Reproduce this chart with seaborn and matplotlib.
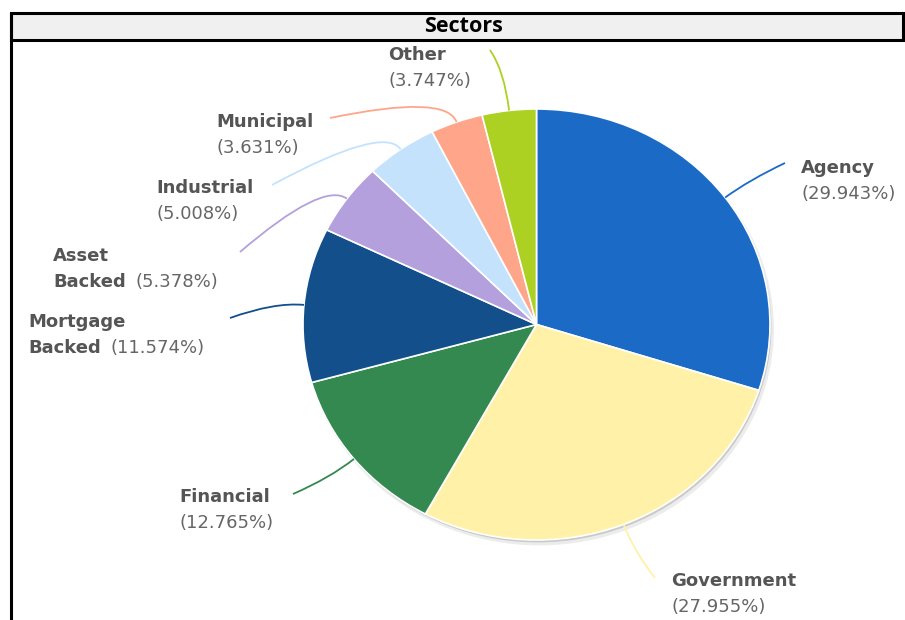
import numpy as np
import matplotlib
matplotlib.use("Agg")
import matplotlib.pyplot as plt
from matplotlib.patches import Rectangle, Ellipse, PathPatch
from matplotlib.path import Path
import seaborn as sns

# Portfolio sector weights (percent), clockwise from 12 o'clock
sectors = ["Agency", "Government", "Financial", "Mortgage Backed",
           "Asset Backed", "Industrial", "Municipal", "Other"]
shares = [29.943, 27.955, 12.765, 11.574, 5.378, 5.008, 3.631, 3.747]
slice_colors = ["#1b6bc6", "#fff2a8", "#33894f", "#124f8b",
                "#b4a0dc", "#c4e2fb", "#ffa589", "#add123"]
chart_title = "Sectors"

sns.set_theme(style="white")
plt.rcParams["font.family"] = ["DejaVu Sans"]
palette = sns.color_palette(slice_colors)

W, H = 905, 620
fig = plt.figure(figsize=(W / 100, H / 100), dpi=100)
fig.patch.set_facecolor("white")

# pie placement in pixels (slightly wider than tall)
CX, CY, RX, RY = 536.5, 324.5, 233.5, 215.5
M = 1.2
pie_ax = fig.add_axes([(CX - M * RX) / W, (H - CY - M * RY) / H,
                       2 * M * RX / W, 2 * M * RY / H])
pie_ax.add_patch(Ellipse((0.012, -0.02), 2.01, 2.01, facecolor="#9a9a9a",
                         alpha=0.18, lw=0, zorder=0))
pie_ax.add_patch(Ellipse((0.006, -0.011), 2.0, 2.0, facecolor="#8a8a8a",
                         alpha=0.35, lw=0, zorder=0))
pie_ax.pie(shares, colors=palette, startangle=90, counterclock=False,
           radius=1.0, wedgeprops=dict(edgecolor="white", linewidth=1.2))
pie_ax.set_aspect("auto")
pie_ax.set_xlim(-M, M)
pie_ax.set_ylim(-M, M)
pie_ax.axis("off")

# overlay in pixel coordinates for frame, title, labels and connectors
ov = fig.add_axes([0, 0, 1, 1])
ov.set_xlim(0, W)
ov.set_ylim(H, 0)
ov.axis("off")
ov.patch.set_alpha(0)

ov.add_patch(Rectangle((10.5, 12.5), 892, 27.5, facecolor="#f0f0f0",
                       edgecolor="black", lw=2.2, zorder=3))
ov.plot([10.5, 10.5], [12.5, H + 2], color="black", lw=2.2, zorder=3,
        solid_capstyle="butt")
ov.text(463, 26, chart_title, ha="center", va="center", fontsize=15.5,
        fontweight="bold", family=["Open Sans", "DejaVu Sans"], color="black",
        zorder=4)

label_pos = {"Agency": (801, 168), "Government": (671, 581),
             "Financial": (179, 497), "Mortgage Backed": (28, 322),
             "Asset Backed": (53, 256), "Industrial": (156, 188),
             "Municipal": (216, 122), "Other": (388, 55)}
connector_end = {"Agency": (785, 163), "Government": (655, 578),
                 "Financial": (293, 494), "Mortgage Backed": (230, 318),
                 "Asset Backed": (240, 252), "Industrial": (272, 185),
                 "Municipal": (330, 118), "Other": (490, 50)}
LINE = 26
NAME_KW = dict(fontsize=13, fontweight="bold", color="#555555",
               ha="left", va="center")
PCT_KW = dict(fontsize=13, color="#666666", ha="left", va="center")

vals = np.array(shares)
mid = np.deg2rad(90 - 360 * (np.cumsum(vals) - vals / 2) / vals.sum())

for name, pct, ang, col in zip(sectors, shares, mid, slice_colors):
    # connector: from slice rim outward, then bending toward the label
    sx, sy = CX + RX * np.cos(ang), CY - RY * np.sin(ang)
    reach = 40 if name == "Other" else 30
    cx, cy = sx + reach * np.cos(ang), sy - reach * np.sin(ang)
    ex, ey = connector_end[name]
    path = Path([(sx, sy), (cx, cy), (ex, ey)],
                [Path.MOVETO, Path.CURVE3, Path.CURVE3])
    ov.add_patch(PathPatch(path, facecolor="none", edgecolor=col, lw=1.3))

    lx, ly = label_pos[name]
    pct_text = f"({pct:.3f}%)"
    if name.endswith("Backed"):
        first = name.split()[0]
        ov.text(lx, ly, first, **NAME_KW)
        t = ov.text(lx, ly + LINE, "Backed", **NAME_KW)
        ov.annotate(pct_text, xy=(1, 0.5), xycoords=t, xytext=(7, 0),
                    textcoords="offset points", **PCT_KW)
    else:
        ov.text(lx, ly, name, **NAME_KW)
        ov.text(lx, ly + LINE, pct_text, **PCT_KW)

fig.savefig("out.png", dpi=100, facecolor="white")
